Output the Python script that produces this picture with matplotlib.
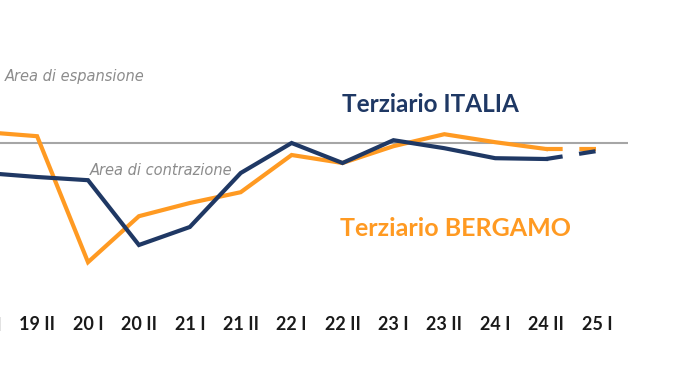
import matplotlib
matplotlib.use("Agg")
import matplotlib.pyplot as plt

# Semestri e indici (soglia 50)
periodi = ['19 I', '19 II', '20 I', '20 II', '21 I', '21 II', '22 I',
           '22 II', '23 I', '23 II', '24 I', '24 II', '25 I']
bergamo = [52.7, 51.7, 20.2, 31.7, 35.0, 37.7, 47.0, 45.0, 49.2, 52.2, 50.2, 48.5, 48.5]
italia = [42.5, 41.5, 40.7, 24.5, 29.0, 42.5, 50.0, 45.0, 50.7, 48.7, 46.2, 46.0, 48.0]

navy = '#1f3864'
arancio = '#ff9a22'

plt.rcParams['font.family'] = ['Lato', 'DejaVu Sans']

fig = plt.figure(figsize=(6.8, 3.85), dpi=100)
ax = fig.add_axes([0, 80 / 385, 1, 305 / 385])

x = list(range(len(periodi)))

# linea di soglia
ax.hlines(50, 0.2, 12.61, color='#a6a6a6', lw=1.5, zorder=1)

# serie: tratto continuo fino a 24 II, tratteggiato verso 25 I
ax.plot(x[:12], bergamo[:12], color=arancio, lw=3, solid_joinstyle='miter', zorder=2)
ax.plot(x[11:], bergamo[11:], color=arancio, lw=3, linestyle=(0, (4, 4)), zorder=2)
ax.plot(x[:12], italia[:12], color=navy, lw=3, solid_joinstyle='miter', zorder=3)
ax.plot(x[11:], italia[11:], color=navy, lw=3, linestyle=(0, (4, 4)), zorder=3)

ax.set_xticks(x)
ax.set_xticklabels(periodi, fontsize=13, fontweight='bold', color='#1a1a1a')
ax.tick_params(axis='x', length=0, pad=8)
ax.set_yticks([])
for s in ax.spines.values():
    s.set_visible(False)

# limiti dopo i tick (set_xticks li allarga)
ax.set_xlim(0.271, 13.63)
ax.set_ylim(9.5, 85.75)

# la prima etichetta cade fuori dai limiti: la scrivo a mano, tagliata dal bordo
ax.text(x[0], -0.067, periodi[0], transform=ax.get_xaxis_transform(), fontsize=13,
        fontweight='bold', color='#1a1a1a', ha='center', va='center', clip_on=False)

# etichette
ax.text(0.007, 0.75, 'Area di espansione', transform=ax.transAxes, fontsize=10.5,
        style='italic', color='#8c8c8c', va='center', ha='left', family='DejaVu Sans')
ax.text(0.132, 0.44, 'Area di contrazione', transform=ax.transAxes, fontsize=10.5,
        style='italic', color='#8c8c8c', va='center', ha='left', family='DejaVu Sans')
ax.text(0.503, 0.659, 'Terziario ITALIA', transform=ax.transAxes, fontsize=17.5,
        fontweight='bold', color=navy, va='center', ha='left')
ax.text(0.5, 0.252, 'Terziario BERGAMO', transform=ax.transAxes, fontsize=18,
        fontweight='bold', color=arancio, va='center', ha='left')

fig.savefig('out.png', dpi=100)
